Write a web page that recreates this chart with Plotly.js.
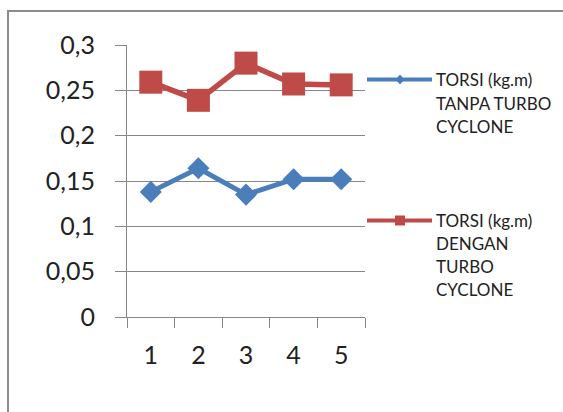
<!DOCTYPE html>
<html><head><meta charset="utf-8">
<script src="https://cdn.plot.ly/plotly-3.0.1.min.js"></script>
<style>html,body{margin:0;padding:0;background:#fff;overflow:hidden}#chart{width:563px;height:412px;}</style>
</head><body><div id="chart"></div>
<script>
// ---- data ----
const categories = ['1', '2', '3', '4', '5'];
const torsiTanpaTurbo = [0.138, 0.164, 0.135, 0.152, 0.152];
const torsiDenganTurbo = [0.259, 0.239, 0.280, 0.257, 0.256];
const legendTanpa = ['TORSI (kg.m)', 'TANPA TURBO', 'CYCLONE'];
const legendDengan = ['TORSI (kg.m)', 'DENGAN', 'TURBO', 'CYCLONE'];
const yTickVals = [0, 0.05, 0.1, 0.15, 0.2, 0.25, 0.3];

// ---- style ----
const BLUE = '#4A7EBB';
const RED = '#BE4B48';
const GRID = '#868686';
const TXT = '#222222';
const FONT = 'Lato, "Open Sans", sans-serif';
const M = {l: 127, r: 198, t: 45, b: 95};
const W = 563 - M.l - M.r, H = 412 - M.t - M.b;
const px = x => (x - M.l) / W;
const py = y => (412 - M.b - y) / H;

const traces = [
  {x: categories, y: torsiTanpaTurbo, type: 'scatter', mode: 'lines+markers', name: legendTanpa.join(' '),
   line: {color: BLUE, width: 5}, marker: {symbol: 'diamond', size: 17, color: BLUE}, showlegend: false, cliponaxis: false},
  {x: categories, y: torsiDenganTurbo, type: 'scatter', mode: 'lines+markers', name: legendDengan.join(' '),
   line: {color: RED, width: 5.5}, marker: {symbol: 'square', size: 23, color: RED}, showlegend: false, cliponaxis: false}
];

const shapes = [
  {type: 'rect', xref: 'paper', yref: 'paper', x0: px(8), x1: px(620), y0: py(11), y1: py(460),
   line: {color: '#8C8C8C', width: 2}, fillcolor: 'rgba(0,0,0,0)', layer: 'below'}
];
const annotations = [];
const LEG_X0 = 367, LEG_X1 = 432, LEG_MX = 400, LEG_TX = 434;
function addLegend(lines, color, symbol, yFirst, step) {
  shapes.push({type: 'line', xref: 'paper', yref: 'paper', x0: px(LEG_X0), x1: px(LEG_X1), y0: py(yFirst), y1: py(yFirst),
    line: {color: color, width: 4}});
  if (symbol === 'diamond') {
    const w = 4.5, h = 5;
    shapes.push({type: 'path', xref: 'paper', yref: 'paper', fillcolor: color, line: {color: color, width: 0},
      path: `M${px(LEG_MX)},${py(yFirst - h)} L${px(LEG_MX + w)},${py(yFirst)} L${px(LEG_MX)},${py(yFirst + h)} L${px(LEG_MX - w)},${py(yFirst)} Z`});
  } else {
    const s = 5;
    shapes.push({type: 'rect', xref: 'paper', yref: 'paper', fillcolor: color, line: {color: color, width: 0},
      x0: px(LEG_MX - s), x1: px(LEG_MX + s), y0: py(yFirst - s), y1: py(yFirst + s)});
  }
  lines.forEach((t, i) => {
    annotations.push({text: t, xref: 'paper', yref: 'paper', x: px(LEG_TX), y: py(yFirst + i * step),
      xanchor: 'left', yanchor: 'middle', showarrow: false,
      font: {family: FONT, size: 17, color: TXT}});
  });
}
addLegend(legendTanpa, BLUE, 'diamond', 79.5, 23.5);
addLegend(legendDengan, RED, 'square', 220.5, 23);

const layout = {
  width: 563, height: 412,
  margin: M,
  paper_bgcolor: '#fff', plot_bgcolor: '#fff',
  separators: ',.',
  showlegend: false,
  font: {family: FONT, color: TXT},
  xaxis: {
    type: 'category', range: [-0.5, 4.5], tickson: 'boundaries',
    showgrid: false, zeroline: false,
    showline: true, linecolor: GRID, linewidth: 1,
    ticks: 'outside', ticklen: 10, tickcolor: GRID, tickwidth: 1,
    tickfont: {family: FONT, size: 25, color: TXT},
    ticklabelstandoff: 16
  },
  yaxis: {
    range: [0, 0.3], tickvals: yTickVals,
    showgrid: true, gridcolor: GRID, gridwidth: 1, zeroline: false,
    showline: true, linecolor: GRID, linewidth: 1,
    ticks: 'outside', ticklen: 11, tickcolor: GRID, tickwidth: 1,
    tickfont: {family: FONT, size: 25, color: TXT},
    ticklabelstandoff: 15
  },
  shapes: shapes,
  annotations: annotations
};

Plotly.newPlot('chart', traces, layout, {displayModeBar: false, staticPlot: true});
</script></body></html>
